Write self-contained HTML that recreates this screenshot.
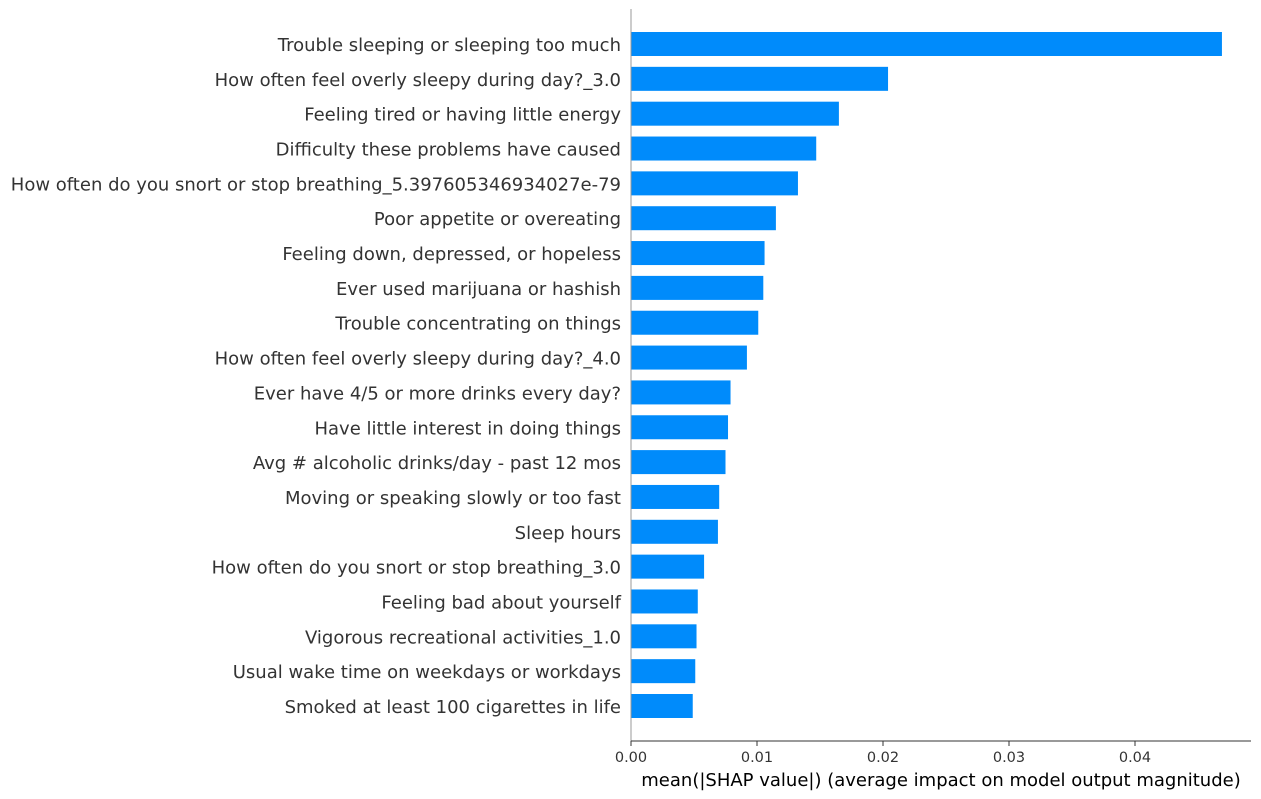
<!DOCTYPE html>
<html><head><meta charset="utf-8"><style>
html,body{margin:0;padding:0;background:#fff;}
svg{display:block;font-family:"DejaVu Sans","Liberation Sans",sans-serif;}
</style></head><body>
<svg id="chart" width="1261" height="799"></svg>
<script>
const features = ["Trouble sleeping or sleeping too much","How often feel overly sleepy during day?_3.0","Feeling tired or having little energy","Difficulty these problems have caused","How often do you snort or stop breathing_5.397605346934027e-79","Poor appetite or overeating","Feeling down, depressed, or hopeless","Ever used marijuana or hashish","Trouble concentrating on things","How often feel overly sleepy during day?_4.0","Ever have 4/5 or more drinks every day?","Have little interest in doing things","Avg # alcoholic drinks/day - past 12 mos","Moving or speaking slowly or too fast","Sleep hours","How often do you snort or stop breathing_3.0","Feeling bad about yourself","Vigorous recreational activities_1.0","Usual wake time on weekdays or workdays","Smoked at least 100 cigarettes in life"];
const values = [0.0469,0.0204,0.0165,0.0147,0.01325,0.0115,0.0106,0.0105,0.0101,0.0092,0.0079,0.0077,0.0075,0.0070,0.0069,0.0058,0.0053,0.0052,0.0051,0.0049];
const ticks = [0,0.01,0.02,0.03,0.04];
const tickLabels = ["0.00","0.01","0.02","0.03","0.04"];

const NS="http://www.w3.org/2000/svg";
const svg=document.getElementById('chart');
const x0=631, pxPer=12600, xEnd=1251, axisY=741;
const xs=v=>x0+v*pxPer;
const y0=44, step=(706-44)/19;
const ys=i=>y0+i*step;
function mk(t,a,txt){const e=document.createElementNS(NS,t);for(const k in a)e.setAttribute(k,a[k]);if(txt!==undefined)e.textContent=txt;svg.appendChild(e);return e;}

features.forEach((f,i)=>{
  const r=mk('rect',{x:x0,y:ys(i)-12,width:xs(values[i])-x0,height:24,fill:'#008bfb'});
  
  
  const t=mk('text',{x:621,y:ys(i)+7,'text-anchor':'end','font-size':'18',fill:'#333'},f);
  
  
});
const sp=mk('line',{x1:x0,y1:9,x2:x0,y2:axisY,stroke:'#999','stroke-width':1});


const ax=mk('line',{x1:x0,y1:axisY,x2:xEnd,y2:axisY,stroke:'#333','stroke-width':1});


ticks.forEach((v,i)=>{
  const l=mk('line',{x1:xs(v),y1:axisY,x2:xs(v),y2:axisY+5,stroke:'#333'});
  
  
  const t=mk('text',{x:xs(v),y:762,'text-anchor':'middle','font-size':'14.5',fill:'#333'},tickLabels[i]);
  
  
});
const xt=mk('text',{x:941,y:786,'text-anchor':'middle','font-size':'18',fill:'#000'},'mean(|SHAP value|) (average impact on model output magnitude)');


</script>
</body></html>
